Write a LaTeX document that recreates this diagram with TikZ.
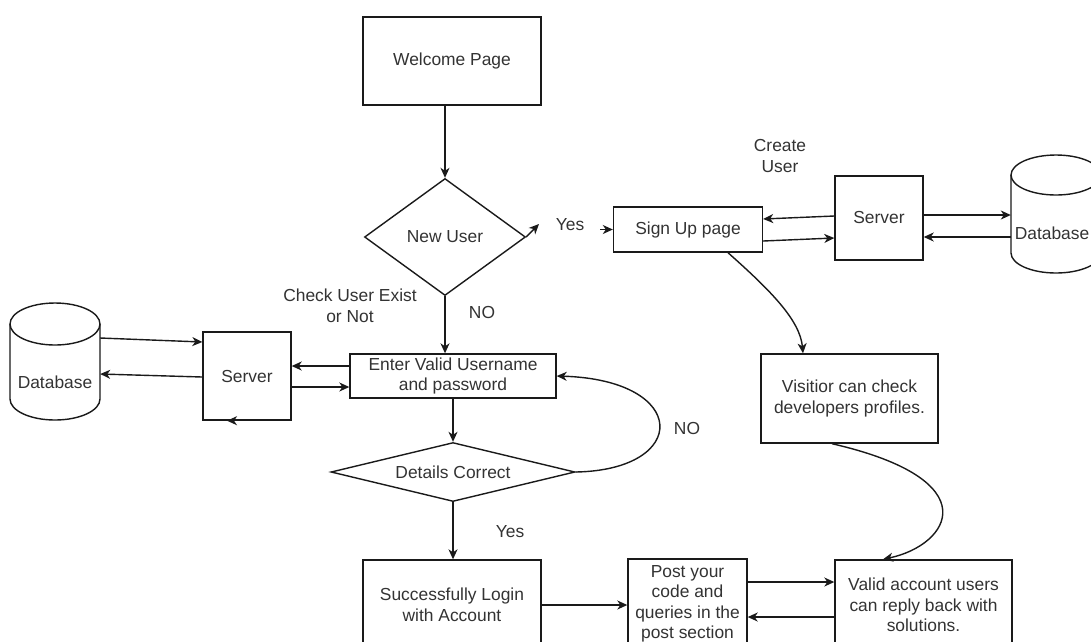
\documentclass[tikz,border=0pt]{standalone}
\usepackage{fontspec}
\setmainfont{Liberation Sans}
\usetikzlibrary{shapes.geometric,arrows.meta}
\definecolor{ink}{HTML}{1A1A1A}
\definecolor{txt}{HTML}{333333}
\begin{document}
\begin{tikzpicture}[x=1pt,y=-1pt,
  base/.style={font=\fontsize{17.4}{20.5}\selectfont, text=txt, align=center},
  box/.style={base, draw=ink, line width=1.4pt, rectangle, inner sep=0pt},
  dia/.style={base, draw=ink, line width=1.4pt, diamond, inner sep=0pt},
  ghost/.style={base, rectangle, inner sep=0pt},
  arr/.style={draw=ink, line width=1.4pt, -{Stealth[length=10pt,width=9pt,inset=3pt]}},
  link/.style={draw=ink, line width=1.4pt}]
\useasboundingbox (0,0) rectangle (1091,641);
\fill[white] (0,0) rectangle (1091,641);
\clip (0,0) rectangle (1091,641);

% nodes
\node[box, minimum width=178pt, minimum height=88pt] (welcome) at (452,61) {Welcome Page};
\node[dia, minimum width=161pt, minimum height=117pt, aspect=1.376] (newuser) at (445,237) {New User};
\node[box, minimum width=149pt, minimum height=45pt] (signup) at (688,229.5) {Sign Up page};
\node[box, minimum width=88pt, minimum height=84pt] (serverR) at (879,218) {Server};
\node[ghost, minimum width=90pt, minimum height=78pt] (dbR) at (1056,234) {};
\node[base] (dbRtext) at (1052,233) {Database};
\node[box, minimum width=177pt, minimum height=89pt] (visitor) at (849.5,398.5) {Visitior can check\\developers profiles.};
\node[ghost, minimum width=90pt, minimum height=76pt] (dbL) at (55,382) {Database};
\node[box, minimum width=88pt, minimum height=88pt] (serverL) at (247,376) {Server};
\node[box, minimum width=206pt, minimum height=44pt] (enter) at (453,376) {Enter Valid Username\\and password};
\node[dia, minimum width=244pt, minimum height=59pt, aspect=4.13] (details) at (453,472) {Details Correct};
\node[box, minimum width=178pt, minimum height=90pt] (success) at (452,605) {Successfully Login\\with Account};
\node[box, minimum width=119pt, minimum height=90pt] (post) at (687.5,604) {Post your\\code and\\queries in the\\post section};
\node[box, minimum width=177pt, minimum height=90pt] (valid) at (923.5,605) {Valid account users\\can reply back with\\solutions.};

% cylinders
\draw[link] (55,324) ellipse [x radius=45pt, y radius=21pt];
\draw[link] (10,324) -- (10,399) .. controls (10,410.6) and (30.1,420) .. (55,420) .. controls (79.9,420) and (100,410.6) .. (100,399) -- (100,324);
\draw[link] (1056,175) ellipse [x radius=45pt, y radius=20pt];
\draw[link] (1011,175) -- (1011,253) .. controls (1011,264) and (1031.1,273) .. (1056,273) .. controls (1080.9,273) and (1101,264) .. (1101,253) -- (1101,175);

% labels
\node[base] (lblCreate) at (780,156) {Create\\User};
\node[base] (lblCheck) at (350,306) {Check User Exist\\or Not};
\node[base] (lblYes1) at (570,225) {Yes};
\node[base] (lblNo1) at (482,312) {NO};
\node[base] (lblNo2) at (687,428) {NO};
\node[base] (lblYes2) at (510,532) {Yes};

% free ends
\coordinate (yesTip) at (539,224);
\coordinate (yesIn) at (600,229.5);

% connectors
\draw[arr] (welcome.south -| newuser.north) -- (newuser.north);
\draw[arr] (newuser.east) -- (yesTip);
\draw[arr] (yesIn) -- (signup.west);
\draw[arr] (serverR.west |- 0,216) -- (signup.east |- 0,219);
\draw[arr] (signup.east |- 0,241) -- (serverR.west |- 0,238);
\draw[arr] (serverR.east |- 0,215) -- (dbR.west |- 0,215);
\draw[arr] (dbR.west |- 0,237) -- (serverR.east |- 0,237);

\draw[arr] (newuser.south) -- (newuser.south |- enter.north);
\draw[arr] (dbL.east |- 0,338) -- (serverL.west |- 0,342);
\draw[arr] (serverL.west |- 0,377) -- (dbL.east |- 0,374);
\draw[arr] (enter.west |- 0,366) -- (serverL.east |- 0,366);
\draw[arr] (serverL.east |- 0,387) -- (enter.west |- 0,387);
\draw[arr] ([xshift=16pt]serverL.south) -- ([xshift=-20pt]serverL.south);

\draw[arr] (enter.south) -- (details.north);
\draw[arr] (details.east) .. controls (690,470) and (690,380) .. (enter.east);
\draw[arr] (details.south) -- (details.south |- success.north);
\draw[arr] (success.east) -- (post.west |- success.east);
\draw[arr] (post.east |- 0,582) -- (valid.west |- 0,582);
\draw[arr] (valid.west |- 0,617) -- (post.east |- 0,617);

\draw[arr] (signup.south -| 728,0) .. controls (770,290) and (800,320) .. (visitor.north -| 803,0);
\draw[arr] (visitor.south -| 832,0) .. controls (990,480) and (950,545) .. (valid.north -| 883,0);
\end{tikzpicture}
\end{document}
